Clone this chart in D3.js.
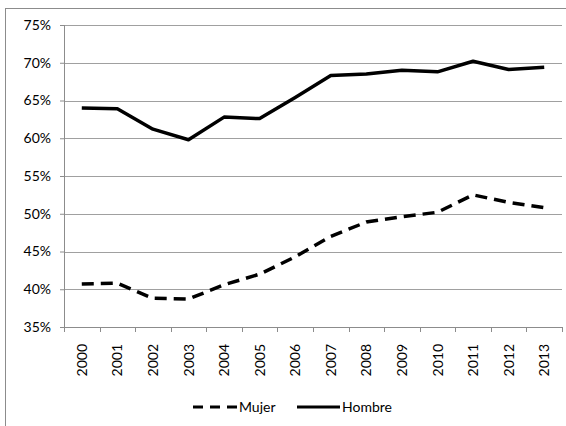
<!DOCTYPE html>
<html>
<head>
<meta charset="utf-8">
<script src="https://cdn.jsdelivr.net/npm/d3@7"></script>
<style>
  body { margin: 0; background: #fff; }
  text { font-family: Lato, "Liberation Sans", Arial, sans-serif; fill: #000; }
</style>
</head>
<body>
<div id="chart"></div>
<script>
"use strict";

// data (percent)
var years = ["2000", "2001", "2002", "2003", "2004", "2005", "2006",
             "2007", "2008", "2009", "2010", "2011", "2012", "2013"];
var mujer  = [40.7, 40.8, 38.8, 38.7, 40.6, 42.0, 44.3, 47.0, 48.9, 49.6, 50.2, 52.5, 51.5, 50.8];
var hombre = [64.0, 63.9, 61.2, 59.8, 62.8, 62.6, 65.4, 68.3, 68.5, 69.0, 68.8, 70.2, 69.1, 69.4];
var yTicks = [35, 40, 45, 50, 55, 60, 65, 70, 75];
var seriesNames = ["Mujer", "Hombre"];

var W = 566, H = 426;
var margin = { top: 25, right: 4, bottom: 99, left: 64 };
var w = W - margin.left - margin.right;
var h = H - margin.top - margin.bottom;

var svg = d3.select("#chart").append("svg")
    .attr("width", W)
    .attr("height", H);

// outer chart border (only top and left show in the frame)
svg.append("rect")
    .attr("x", 5.5).attr("y", 8.5)
    .attr("width", W + 10).attr("height", H + 10)
    .attr("fill", "none")
    .attr("stroke", "#8c8c8c")
    .attr("stroke-width", 1);

var g = svg.append("g")
    .attr("transform", "translate(" + margin.left + "," + margin.top + ")");

var x = d3.scaleBand().domain(years).range([0, w]);
var y = d3.scaleLinear().domain([35, 75]).range([h, 0]);

// gridlines
g.append("g").selectAll("line").data(yTicks.filter(d => d > 35))
  .join("line")
    .attr("x1", 0).attr("x2", w)
    .attr("y1", d => Math.round(y(d)) + 0.5)
    .attr("y2", d => Math.round(y(d)) + 0.5)
    .attr("stroke", "#a0a0a0")
    .attr("stroke-width", 1);

// y axis
var yAxis = d3.axisLeft(y).tickValues(yTicks).tickSize(4).tickPadding(9)
    .tickFormat(d => d + "%");
var ya = g.append("g").call(yAxis);
ya.select(".domain").attr("stroke", "#8c8c8c").attr("d", "M0.5," + h + "V0");
ya.selectAll(".tick line").attr("stroke", "#8c8c8c");
ya.selectAll("text").style("font-size", "14px");

// x axis: ticks on band boundaries
var bounds = years.map(d => x(d)).concat([w]);
var xa = g.append("g").attr("transform", "translate(0," + h + ")");
xa.append("line")
    .attr("x1", -4).attr("x2", w)
    .attr("y1", 0.5).attr("y2", 0.5)
    .attr("stroke", "#8c8c8c");
xa.selectAll(".xt").data(bounds)
  .join("line")
    .attr("class", "xt")
    .attr("x1", d => Math.round(d) + 0.5).attr("x2", d => Math.round(d) + 0.5)
    .attr("y1", 0).attr("y2", 5)
    .attr("stroke", "#8c8c8c");
xa.selectAll(".xl").data(years)
  .join("text")
    .attr("class", "xl")
    .attr("transform", d => "translate(" + (x(d) + x.bandwidth() / 2 + 5) + ",17) rotate(-90)")
    .attr("text-anchor", "end")
    .style("font-size", "14px")
    .text(d => d);

// lines
var line = d3.line()
    .x((d, i) => x(years[i]) + x.bandwidth() / 2)
    .y(d => y(d));

g.append("path").datum(hombre)
    .attr("d", line)
    .attr("fill", "none")
    .attr("stroke", "#000")
    .attr("stroke-width", 3.5)
    .attr("stroke-linejoin", "round");

g.append("path").datum(mujer)
    .attr("d", line)
    .attr("fill", "none")
    .attr("stroke", "#000")
    .attr("stroke-width", 3.5)
    .attr("stroke-dasharray", "12,7");

// legend
var legend = svg.append("g").attr("transform", "translate(0,407)");
var legendItems = [
  { name: seriesNames[0], x1: 193, x2: 237, dash: "10,7" },
  { name: seriesNames[1], x1: 297, x2: 340, dash: null }
];
legendItems.forEach(function(d) {
  legend.append("line")
      .attr("x1", d.x1).attr("x2", d.x2)
      .attr("y1", 0).attr("y2", 0)
      .attr("stroke", "#000")
      .attr("stroke-width", 3)
      .attr("stroke-dasharray", d.dash);
  legend.append("text")
      .attr("x", d.x2 + 2)
      .attr("y", 5)
      .style("font-size", "14px")
      .text(d.name);
});
</script>
</body>
</html>
